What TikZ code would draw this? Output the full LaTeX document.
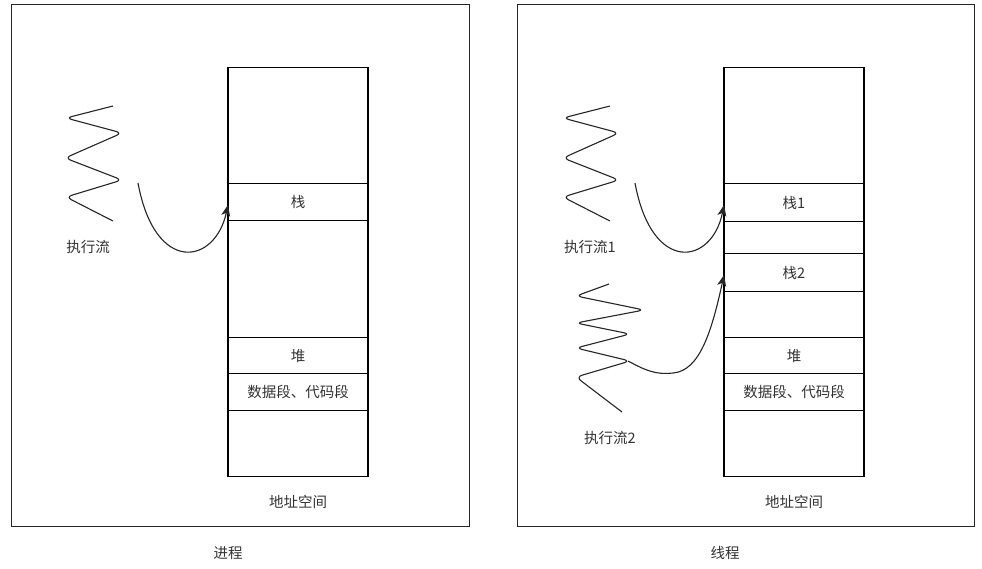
\documentclass[tikz,border=0pt]{standalone}
\usepackage{fontspec}
\setmainfont{Noto Sans CJK SC}
\usetikzlibrary{arrows.meta}
\begin{document}
\begin{tikzpicture}[x=1pt,y=-1pt,
  line width=1.1pt,
  lbl/.style={font=\fontsize{14.5}{16}\selectfont, text=black!80, inner sep=0pt},
  cell/.style={draw, minimum width=140pt, inner sep=0pt, font=\fontsize{14.5}{16}\selectfont, text=black!80, anchor=north},
  frame/.style={draw, line width=1.2pt, black!85},
  wave/.style={line width=1.1pt, black!85, rounded corners=6pt},
  flow/.style={line width=1.1pt, black!85, -{Stealth[length=11pt,width=9pt,inset=3pt]}}
]
\useasboundingbox (0,0) rectangle (982,568);
\fill[white] (0,0) rectangle (982,568);

% frames
\draw[frame] (11.5,4.5) rectangle (469.5,526.5);
\draw[frame] (517.5,4.5) rectangle (974.5,526.5);

% ---------- left: process ----------
\node[cell, minimum height=116pt] (L0) at (298,67) {};
\node[cell, minimum height=37pt] (Lstack) at (298,183) {栈};
\node[cell, minimum height=117pt] (L2) at (298,220) {};
\node[cell, minimum height=36pt] (Lheap) at (298,337) {堆};
\node[cell, minimum height=37pt] (Ldata) at (298,373) {数据段、代码段};
\node[cell, minimum height=66pt] (L5) at (298,410) {};

\node[lbl] (Laddr) at (298,502) {地址空间};
\node[lbl] (Lproc) at (228,553) {进程};
\node[lbl] (Lflow) at (88,247) {执行流};

\draw[wave] (113,106) -- (66,118) -- (122,133) -- (65,158) -- (122,180) -- (66,197) -- (113,221);

\coordinate (La) at (138,183);
\coordinate (Lb) at (228,205);
\draw[flow] (La) .. controls (155,275) and (215,265) .. (Lb);

% ---------- right: thread ----------
\node[cell, minimum height=116pt] (R0) at (794,67) {};
\node[cell, minimum height=38pt] (Rstack1) at (794,183) {栈1};
\node[cell, minimum height=32pt] (R2) at (794,221) {};
\node[cell, minimum height=38pt] (Rstack2) at (794,253) {栈2};
\node[cell, minimum height=46pt] (R4) at (794,291) {};
\node[cell, minimum height=36pt] (Rheap) at (794,337) {堆};
\node[cell, minimum height=37pt] (Rdata) at (794,373) {数据段、代码段};
\node[cell, minimum height=66pt] (R7) at (794,410) {};

\node[lbl] (Raddr) at (794,502) {地址空间};
\node[lbl] (Rthr) at (725,553) {线程};
\node[lbl] (Rflow1) at (590,247) {执行流1};
\node[lbl] (Rflow2) at (610,438) {执行流2};

\draw[wave] (610,106) -- (563,118) -- (619,133) -- (563,158) -- (619,180) -- (563,197) -- (610,221);
\draw[wave] (609,284) -- (576,296) -- (644,310) -- (576,323) -- (630,334) -- (576,348) -- (630,361) -- (576,377) -- (622,412);

\coordinate (Ra) at (635,183);
\coordinate (Rb) at (724,205);
\draw[flow] (Ra) .. controls (652,275) and (712,265) .. (Rb);

\coordinate (Rc) at (628,361);
\coordinate (Rm) at (673,373);
\coordinate (Rd) at (724,275);
\draw[line width=1.1pt, black!85] (Rc) .. controls (645,370) and (655,375) .. (Rm);
\draw[flow] (Rm) .. controls (700,371) and (712,330) .. (Rd);
\end{tikzpicture}
\end{document}
